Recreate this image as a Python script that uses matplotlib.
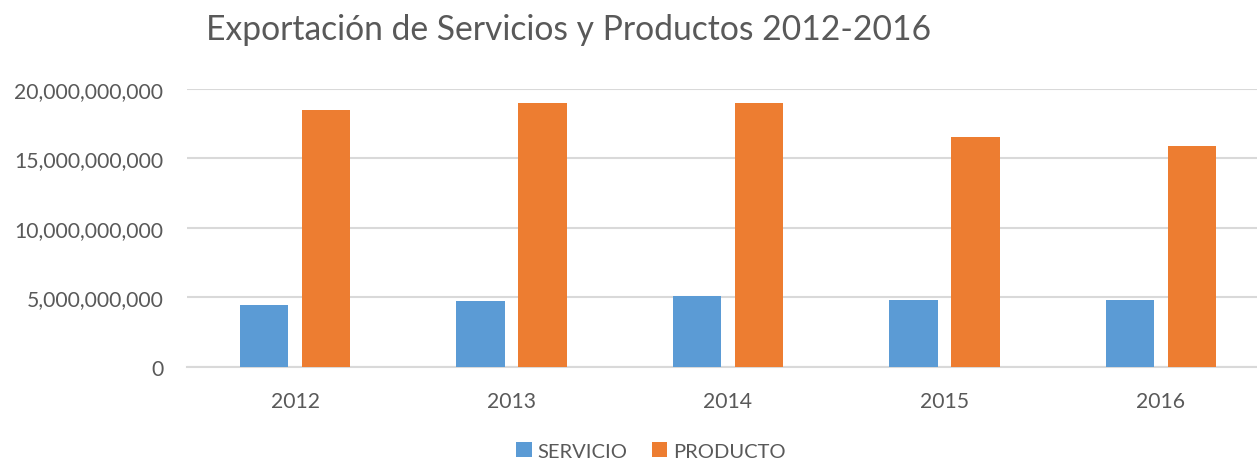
import numpy as np
import matplotlib
matplotlib.use("Agg")
import matplotlib.pyplot as plt
from matplotlib.ticker import FuncFormatter

plt.rcParams['font.family'] = ['Lato', 'DejaVu Sans']

# data
years = ['2012', '2013', '2014', '2015', '2016']
servicio = [4.46e9, 4.77e9, 5.08e9, 4.82e9, 4.80e9]
producto = [18.44e9, 18.94e9, 18.97e9, 16.50e9, 15.85e9]

text_color = '#595959'
grid_color = '#D9D9D9'

W, H = 1257, 460
fig = plt.figure(figsize=(W / 100, H / 100), dpi=100)
ax = fig.add_axes([187 / W, 1 - 368 / H, (1269 - 187) / W, (368 - 89.7) / H])

x = np.arange(len(years))
width = 0.224
off = 0.143
ax.bar(x - off, servicio, width, color='#5B9BD5', label='SERVICIO', zorder=3)
ax.bar(x + off, producto, width, color='#ED7D31', label='PRODUCTO', zorder=3)

ax.set_xlim(-0.5, len(years) - 0.5)
ax.set_ylim(0, 20e9)
ax.set_yticks(np.arange(0, 20e9 + 1, 5e9))
ax.yaxis.set_major_formatter(FuncFormatter(lambda v, p: f'{int(v):,}'))
ax.set_xticks(x)
ax.set_xticklabels(years)

ax.grid(axis='y', color=grid_color, linewidth=1.5, zorder=0)
for s in ['top', 'right', 'left']:
    ax.spines[s].set_visible(False)
ax.spines['bottom'].set_color(grid_color)
ax.spines['bottom'].set_linewidth(1.5)
ax.tick_params(length=0, labelsize=15.2, labelcolor=text_color)
ax.tick_params(axis='y', pad=17)
ax.tick_params(axis='x', pad=17)

fig.text(568.5 / W, 1 - 30 / H, 'Exportación de Servicios y Productos 2012-2016',
         ha='center', va='center', fontsize=24.2, color=text_color)

leg = fig.legend(loc='center', bbox_to_anchor=(651 / W, 1 - 452 / H), ncol=2,
                 frameon=False, fontsize=14.5, handlelength=0.75, handleheight=0.75,
                 handletextpad=0.3, columnspacing=1.2, borderaxespad=0)
for t in leg.get_texts():
    t.set_color(text_color)

fig.savefig('out.png', dpi=100)
